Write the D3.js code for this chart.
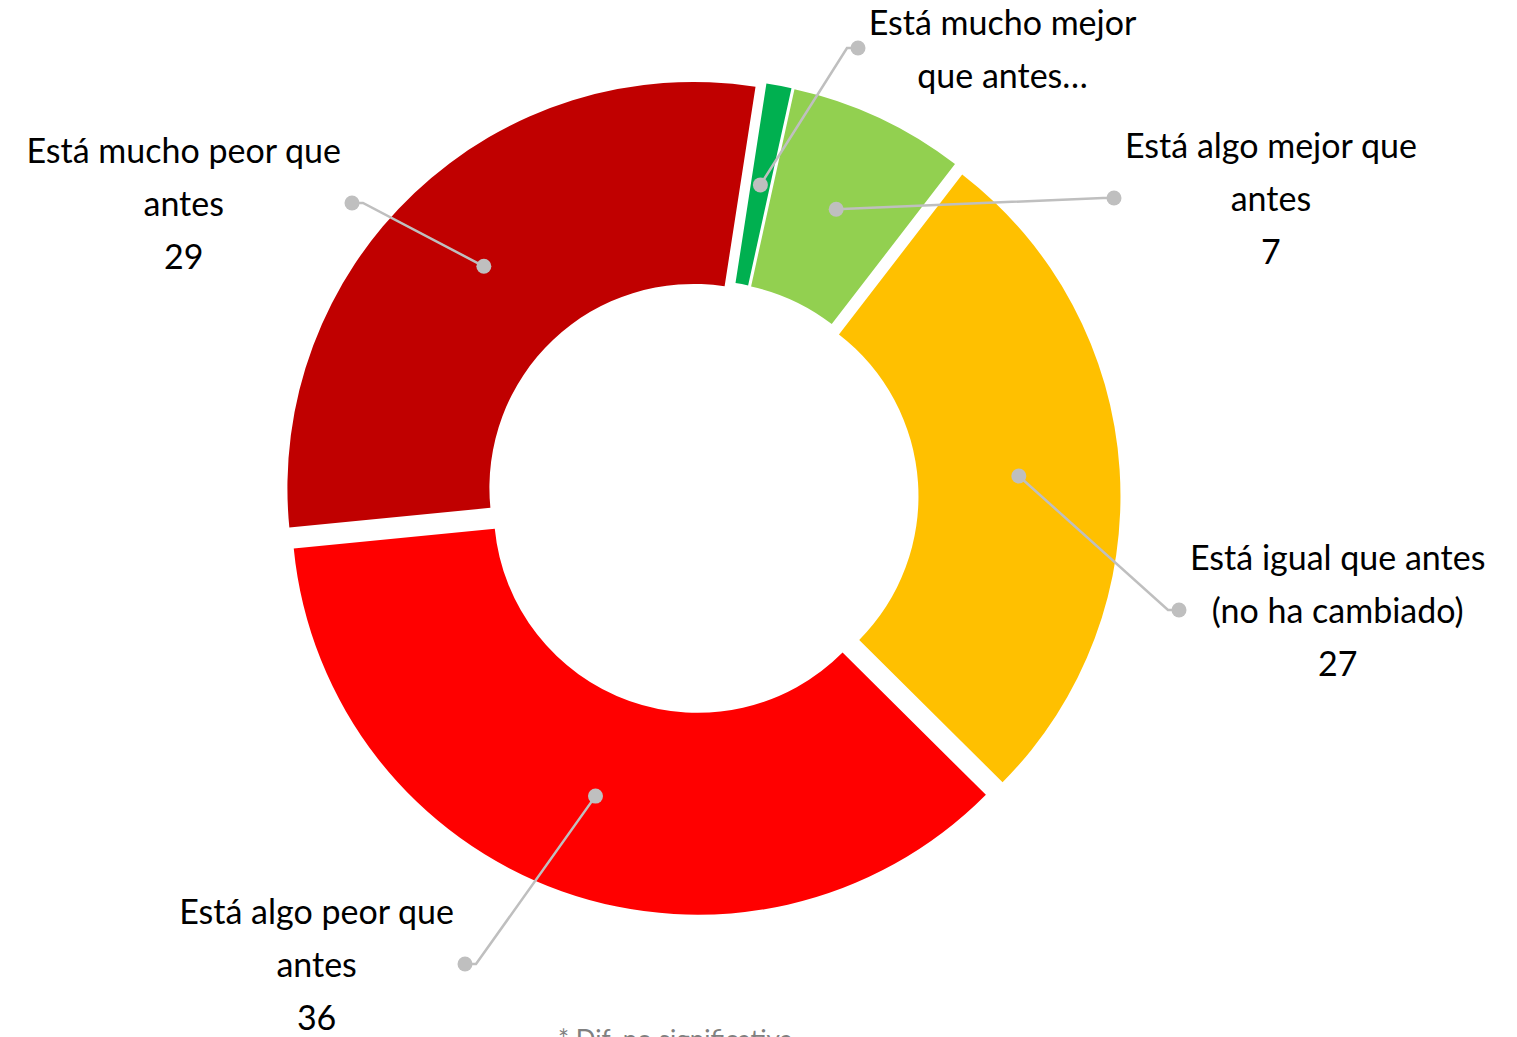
<!DOCTYPE html>
<html>
<head>
<meta charset="utf-8">
<script src="https://cdn.jsdelivr.net/npm/d3@7"></script>
<style>
  body { margin: 0; background: #fff; }
  svg { display: block; }
  .lbl { font-family: Lato, "Noto Sans", sans-serif; font-size: 34px; fill: #000; }
</style>
</head>
<body>
<script>
// data, clockwise from the top
var categories = [
  'Está mucho mejor que antes',
  'Está algo mejor que antes',
  'Está igual que antes (no ha cambiado)',
  'Está algo peor que antes',
  'Está mucho peor que antes'
];
var values = [1, 7, 27, 36, 29];
var colors = ['#00b050', '#92d050', '#ffc000', '#ff0000', '#c00000'];
// wrapped label text as shown on the chart (the first one is cut off, no value)
var labelLines = [
  ['Está mucho mejor', 'que antes…'],
  ['Está algo mejor que', 'antes'],
  ['Está igual que antes', '(no ha cambiado)'],
  ['Está algo peor que', 'antes'],
  ['Está mucho peor que', 'antes']
];
var showValue = [false, true, true, true, true];

// layout: where each label dot sits, and on which side of it the text goes
var labelAnchors = [[858, 48], [1114, 198], [1179, 610], [465, 964], [352, 203]];
var labelSide = ['right', 'right', 'right', 'left', 'left'];

var width = 1517, height = 1037;
var cx = 702, cy = 497;
var outerR = 406, innerR = 204;
var explode = 12.5;
var lineH = 53;

var svg = d3.select('body').append('svg')
  .attr('width', width)
  .attr('height', height);

var pie = d3.pie().sort(null).value(function (d) { return d; })
  .startAngle(8.8 * Math.PI / 180)
  .endAngle(8.8 * Math.PI / 180 + 2 * Math.PI);
var arcs = pie(values);

var arc = d3.arc().innerRadius(innerR).outerRadius(outerR);

function offset(d) {
  var a = (d.startAngle + d.endAngle) / 2;
  return [Math.sin(a) * explode, -Math.cos(a) * explode];
}

var g = svg.append('g').attr('transform', 'translate(' + cx + ',' + cy + ')');

g.selectAll('path.slice').data(arcs).enter().append('path')
  .attr('class', 'slice')
  .attr('d', arc)
  .attr('fill', function (d, i) { return colors[i]; })
  .attr('transform', function (d) { var o = offset(d); return 'translate(' + o[0] + ',' + o[1] + ')'; });

// leader lines: centroid -> short horizontal stub -> label dot
var leaders = svg.append('g');
arcs.forEach(function (d, i) {
  var c = arc.centroid(d), o = offset(d);
  var p0 = [cx + c[0] + o[0], cy + c[1] + o[1]];
  var p2 = labelAnchors[i];
  var stub = labelSide[i] === 'right' ? -11 : 11;
  var p1 = [p2[0] + stub, p2[1]];
  leaders.append('polyline')
    .attr('points', [p0, p1, p2].map(function (p) { return p.join(','); }).join(' '))
    .attr('fill', 'none')
    .attr('stroke', '#bfbfbf')
    .attr('stroke-width', 2.5);
  leaders.append('circle').attr('cx', p0[0]).attr('cy', p0[1]).attr('r', 7.5).attr('fill', '#bfbfbf');
  leaders.append('circle').attr('cx', p2[0]).attr('cy', p2[1]).attr('r', 7.5).attr('fill', '#bfbfbf');
});

// labels
var labels = svg.append('g');
arcs.forEach(function (d, i) {
  var lines = labelLines[i].slice();
  if (showValue[i]) lines.push(String(values[i]));
  var t = labels.append('text').attr('class', 'lbl').attr('text-anchor', 'middle');
  var spans = lines.map(function (s) { return t.append('tspan').text(s); });
  var w = d3.max(spans, function (s) { return s.node().getComputedTextLength(); });
  var a = labelAnchors[i];
  var x = labelSide[i] === 'right' ? a[0] + 11 + w / 2 : a[0] - 11 - w / 2;
  // the middle of the text block lines up with the dot
  var firstBase = a[1] - (lines.length - 1) * lineH / 2 + 13;
  spans.forEach(function (s, k) {
    s.attr('x', x).attr('y', firstBase + k * lineH);
  });
});

// footnote, mostly cut off by the bottom edge
svg.append('text')
  .attr('x', 558).attr('y', 1049)
  .attr('font-family', 'Lato, sans-serif')
  .attr('font-size', 26)
  .attr('fill', '#808080')
  .text('* Dif. no significativa');
</script>
</body>
</html>
